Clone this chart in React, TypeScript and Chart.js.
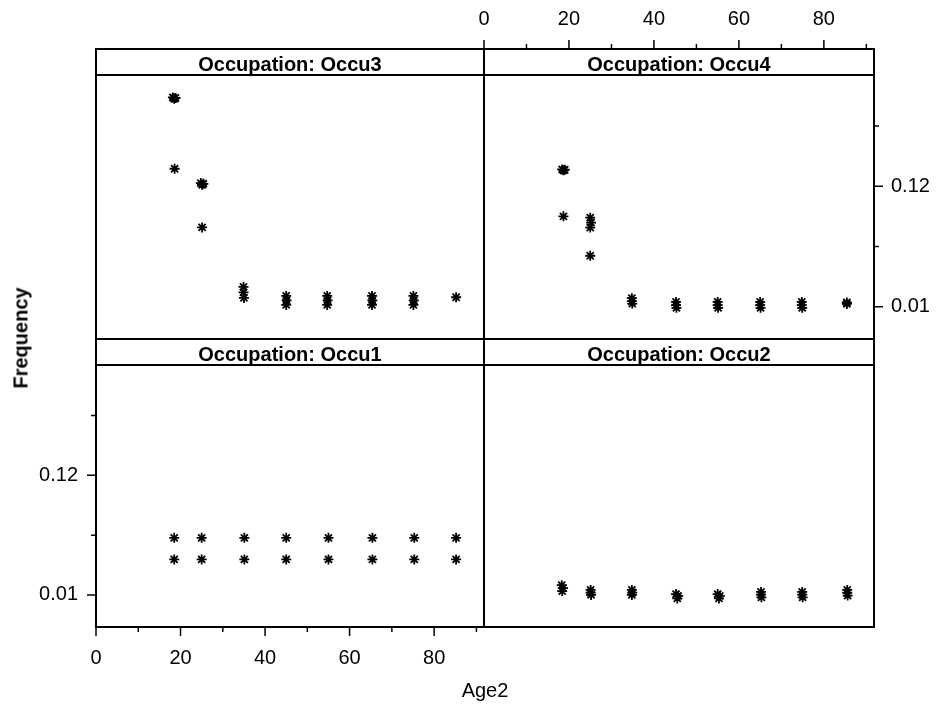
import { useEffect, useRef } from 'react';
import { Chart, registerables } from 'chart.js';

Chart.register(...registerables);

// Axis ticks (minor ticks carry an empty label)
const AGE_TICKS = [0, 10, 20, 30, 40, 50, 60, 70, 80, 90];
const AGE_TICK_LABELS = ['0', '', '20', '', '40', '', '60', '', '80', ''];
const FREQ_TICKS = [0.01, 0.065, 0.12, 0.175];
const FREQ_TICK_LABELS = ['0.01', '', '0.12', ''];

// Shared axis ranges
const AGE_MIN = 0;
const AGE_MAX = 91.8;
const FREQ_MIN = -0.0195;
const FREQ_MAX = 0.2215;

// Occupation: Occu3
const OCCU3_AGE = [18.2, 18.5, 18.8, 18.6, 24.8, 25.1, 25.4, 25.1, 34.9, 34.9, 35.0, 45.0, 45.1, 45.0, 54.7, 54.8, 54.7, 65.3, 65.4, 65.3, 75.1, 75.2, 75.1, 85.2];
const OCCU3_FREQ = [0.201, 0.1998, 0.2005, 0.1359, 0.1228, 0.1212, 0.1222, 0.0824, 0.0281, 0.023, 0.018, 0.0198, 0.0157, 0.0116, 0.0198, 0.0157, 0.0116, 0.0198, 0.0157, 0.0116, 0.0198, 0.0157, 0.0116, 0.0186];

// Occupation: Occu4
const OCCU4_AGE = [18.4, 18.7, 19.0, 18.7, 25.0, 25.2, 25.0, 25.0, 34.8, 34.8, 34.9, 45.2, 45.2, 45.3, 55.0, 55.0, 55.1, 65.0, 65.0, 65.1, 74.8, 74.8, 74.9, 85.4, 85.4];
const OCCU4_FREQ = [0.1353, 0.1345, 0.135, 0.0925, 0.0913, 0.0868, 0.0822, 0.0565, 0.0178, 0.015, 0.0128, 0.0143, 0.0115, 0.009, 0.0143, 0.0115, 0.009, 0.0143, 0.0115, 0.009, 0.0143, 0.0115, 0.009, 0.0138, 0.0125];

// Occupation: Occu1
const OCCU1_AGE = [18.5, 18.5, 25.0, 25.0, 35.1, 35.1, 45.0, 45.0, 55.0, 55.0, 65.4, 65.4, 75.3, 75.3, 85.2, 85.2];
const OCCU1_FREQ = [0.0625, 0.0427, 0.0625, 0.0427, 0.0625, 0.0427, 0.0625, 0.0427, 0.0625, 0.0427, 0.0625, 0.0427, 0.0625, 0.0427, 0.0625, 0.0427];

// Occupation: Occu2
const OCCU2_AGE = [18.3, 18.6, 18.4, 25.1, 25.1, 25.2, 34.8, 34.9, 34.8, 45.2, 45.5, 45.7, 55.0, 55.3, 55.5, 65.2, 65.2, 65.3, 74.9, 74.9, 75.0, 85.5, 85.5, 85.6];
const OCCU2_FREQ = [0.019, 0.0162, 0.0135, 0.0146, 0.0122, 0.01, 0.0146, 0.0122, 0.01, 0.0108, 0.0068, 0.0092, 0.0108, 0.0068, 0.0092, 0.0128, 0.0102, 0.0078, 0.0128, 0.0102, 0.0078, 0.0146, 0.012, 0.0094];

// Page and panel geometry
const PAGE_W = 938;
const PAGE_H = 704;
const COL_X = [96, 484, 874];
const ROW_TOP = [75, 365];
const ROW_BOTTOM = [339, 627];
const STRIP_H = 26;
const MAJOR_TICK = 9;
const MINOR_TICK = 5;
const FONT = '"Liberation Sans", Arial, Helvetica, sans-serif';

type Panel = {
  title: string;
  age: number[];
  freq: number[];
  col: number;
  row: number;
  xAxis: 'top' | 'bottom' | null;
  yAxis: 'left' | 'right' | null;
};

const PANELS: Panel[] = [
  { title: 'Occupation: Occu3', age: OCCU3_AGE, freq: OCCU3_FREQ, col: 0, row: 0, xAxis: null, yAxis: null },
  { title: 'Occupation: Occu4', age: OCCU4_AGE, freq: OCCU4_FREQ, col: 1, row: 0, xAxis: 'top', yAxis: 'right' },
  { title: 'Occupation: Occu1', age: OCCU1_AGE, freq: OCCU1_FREQ, col: 0, row: 1, xAxis: 'bottom', yAxis: 'left' },
  { title: 'Occupation: Occu2', age: OCCU2_AGE, freq: OCCU2_FREQ, col: 1, row: 1, xAxis: null, yAxis: null },
];

// Draws the strip, panel frame and the outward tick marks of a lattice panel
const panelFramePlugin = {
  id: 'panelFrame',
  afterDraw(chart: any, _args: any, opts: any) {
    const { ctx, chartArea: a } = chart;
    const stripTop = a.top - STRIP_H;
    ctx.save();
    ctx.fillStyle = '#000';
    ctx.font = `bold 20px ${FONT}`;
    ctx.textAlign = 'center';
    ctx.textBaseline = 'alphabetic';
    ctx.fillText(opts.title, (a.left + a.right) / 2, stripTop + 22);

    ctx.strokeStyle = '#000';
    ctx.lineWidth = 2;
    ctx.strokeRect(a.left, stripTop, a.right - a.left, a.bottom - stripTop);
    ctx.beginPath();
    ctx.moveTo(a.left, a.top);
    ctx.lineTo(a.right, a.top);
    ctx.stroke();

    ctx.lineWidth = 1.5;
    ctx.beginPath();
    if (opts.xAxis) {
      const xs = chart.scales.x;
      const y0 = opts.xAxis === 'top' ? stripTop : a.bottom;
      const dir = opts.xAxis === 'top' ? -1 : 1;
      AGE_TICKS.forEach((v, i) => {
        const px = xs.getPixelForValue(v);
        const len = AGE_TICK_LABELS[i] ? MAJOR_TICK : MINOR_TICK;
        ctx.moveTo(px, y0);
        ctx.lineTo(px, y0 + dir * len);
      });
    }
    if (opts.yAxis) {
      const ys = chart.scales.y;
      const x0 = opts.yAxis === 'left' ? a.left : a.right;
      const dir = opts.yAxis === 'left' ? -1 : 1;
      FREQ_TICKS.forEach((v, i) => {
        const py = ys.getPixelForValue(v);
        const len = FREQ_TICK_LABELS[i] ? MAJOR_TICK : MINOR_TICK;
        ctx.moveTo(x0, py);
        ctx.lineTo(x0 + dir * len, py);
      });
    }
    ctx.stroke();
    ctx.restore();
  },
};

function PanelChart({ panel }: { panel: Panel }) {
  const canvasRef = useRef<HTMLCanvasElement | null>(null);

  useEffect(() => {
    const canvas = canvasRef.current;
    if (!canvas) return;
    const tickFont = { family: FONT, size: 20 };
    const hiddenTickGrid = {
      display: true,
      drawOnChartArea: false,
      drawTicks: true,
      tickLength: MAJOR_TICK,
      tickColor: 'rgba(0,0,0,0)',
    };

    // Margins around the plot area; a side that holds an axis gives its
    // whole margin to that axis box so the labels are not clipped.
    const margin = {
      left: COL_X[panel.col],
      right: PAGE_W - COL_X[panel.col + 1],
      top: ROW_TOP[panel.row],
      bottom: PAGE_H - ROW_BOTTOM[panel.row],
    };
    const padding = { ...margin };
    if (panel.xAxis) padding[panel.xAxis] = 0;
    if (panel.yAxis) padding[panel.yAxis] = 0;
    const xAxisSize = panel.xAxis ? margin[panel.xAxis] : 0;
    const yAxisSize = panel.yAxis ? margin[panel.yAxis] : 0;

    const chart = new Chart(canvas, {
      type: 'scatter',
      data: {
        datasets: [
          {
            data: panel.age.map((x, i) => ({ x, y: panel.freq[i] })),
            pointStyle: 'star',
            pointRadius: 5,
            pointBorderWidth: 1.8,
            pointBorderColor: '#000',
            pointBackgroundColor: '#000',
            borderColor: '#000',
            backgroundColor: '#000',
          },
        ],
      },
      options: {
        responsive: false,
        animation: false,
        devicePixelRatio: 1,
        events: [],
        layout: { padding },
        scales: {
          x: {
            type: 'linear',
            min: AGE_MIN,
            max: AGE_MAX,
            display: !!panel.xAxis,
            position: panel.xAxis ?? 'bottom',
            afterBuildTicks: (s: any) => {
              s.ticks = AGE_TICKS.map((value) => ({ value }));
            },
            afterFit: (s: any) => {
              s.height = xAxisSize;
            },
            grid: hiddenTickGrid,
            border: { display: false },
            ticks: {
              autoSkip: false,
              maxRotation: 0,
              minRotation: 0,
              padding: panel.xAxis === 'top' ? 35 : 10,
              color: '#000',
              font: tickFont,
              callback: (_v: any, i: number) => AGE_TICK_LABELS[i],
            },
          },
          y: {
            type: 'linear',
            min: FREQ_MIN,
            max: FREQ_MAX,
            display: !!panel.yAxis,
            position: panel.yAxis ?? 'left',
            afterBuildTicks: (s: any) => {
              s.ticks = FREQ_TICKS.map((value) => ({ value }));
            },
            afterFit: (s: any) => {
              s.width = yAxisSize;
            },
            grid: hiddenTickGrid,
            border: { display: false },
            ticks: {
              autoSkip: false,
              padding: panel.yAxis === 'right' ? 8 : 9,
              color: '#000',
              font: tickFont,
              callback: (_v: any, i: number) => FREQ_TICK_LABELS[i],
            },
          },
        },
        plugins: {
          legend: { display: false },
          tooltip: { enabled: false },
          panelFrame: { title: panel.title, xAxis: panel.xAxis, yAxis: panel.yAxis },
        } as any,
      },
      plugins: [panelFramePlugin],
    } as any);
    return () => chart.destroy();
  }, [panel]);

  return (
    <canvas
      ref={canvasRef}
      width={PAGE_W}
      height={PAGE_H}
      style={{ position: 'absolute', left: 0, top: 0 }}
    />
  );
}

export default function App() {
  return (
    <div
      style={{
        position: 'fixed',
        left: 0,
        top: 0,
        width: PAGE_W,
        height: PAGE_H,
        background: '#fff',
        overflow: 'hidden',
      }}
    >
      {PANELS.map((p) => (
        <PanelChart key={p.title} panel={p} />
      ))}
      <div
        style={{
          position: 'absolute',
          left: 21,
          top: 338,
          transform: 'translate(-50%, -50%) rotate(-90deg)',
          font: `bold 20px ${FONT}`,
          color: '#000',
          whiteSpace: 'nowrap',
        }}
      >
        Frequency
      </div>
      <div
        style={{
          position: 'absolute',
          left: 485,
          top: 690,
          transform: 'translate(-50%, -50%)',
          font: `20px ${FONT}`,
          color: '#000',
          whiteSpace: 'nowrap',
        }}
      >
        Age2
      </div>
    </div>
  );
}
